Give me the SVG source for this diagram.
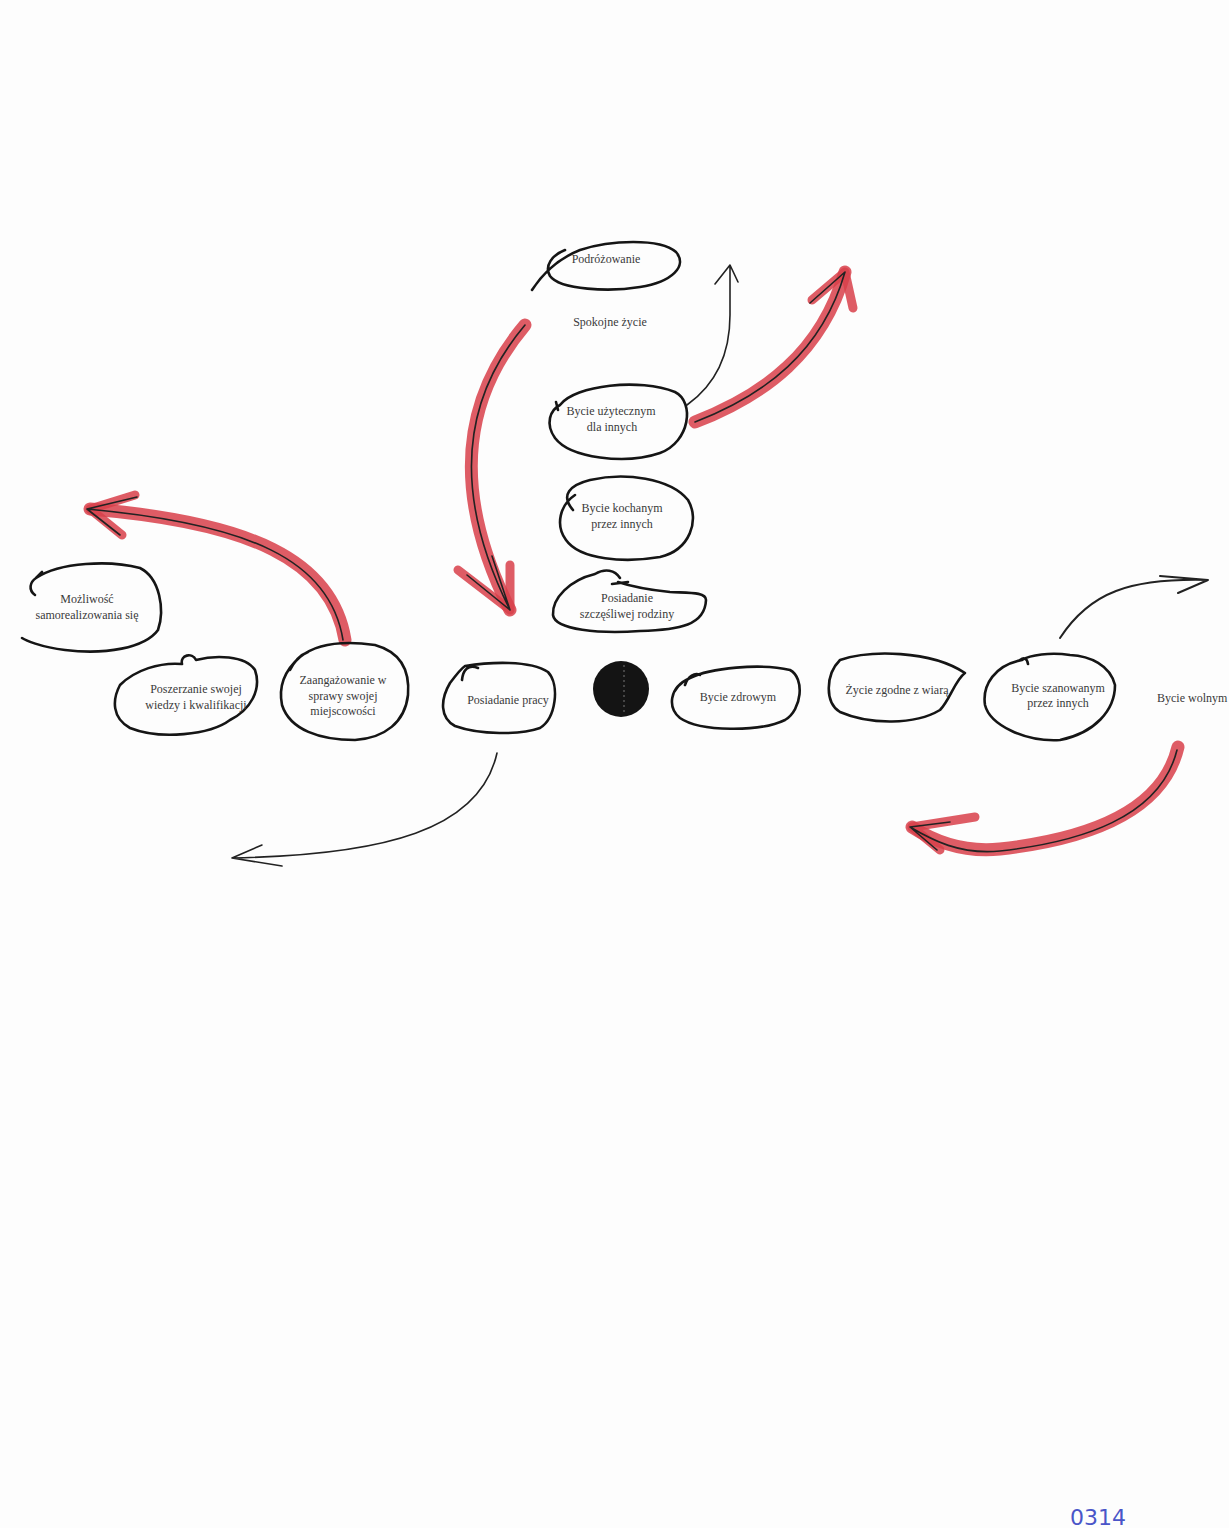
<svg xmlns="http://www.w3.org/2000/svg" width="1229" height="1528" viewBox="0 0 1229 1528">
<style>
.n{fill:none;stroke:#151515;stroke-width:2.6;stroke-linecap:round;stroke-linejoin:round}
.t{font-family:"Liberation Serif","Times New Roman",serif;font-size:12px;fill:#3a3a3a;text-anchor:middle}
.red{fill:none;stroke:#d8404a;stroke-opacity:0.85;stroke-width:13;stroke-linecap:round;stroke-linejoin:round}
.blk{fill:none;stroke:#222;stroke-width:1.6;stroke-linecap:round;stroke-linejoin:round}
.hw{font-family:"DejaVu Sans",sans-serif;font-size:22px;fill:#4a55c8}
</style>
<rect width="1229" height="1528" fill="#fdfdfd"/>

<g id="connectors">
  <g id="c1">
    <path class="red" d="M525,325 C470,390 445,480 510,610"/>
    <path class="red" d="M510,610 L458,570 M510,610 L510,565" style="stroke-width:9"/>
    <path class="blk" d="M525,325 C470,390 445,480 510,610 L467,575 M510,610 L492,556"/>
  </g>
  <g id="c2">
    <path class="blk" d="M687,405 C722,380 730,345 730,315 L730,265 L715,284 M730,265 L738,282"/>
  </g>
  <g id="c3">
    <path class="red" d="M695,422 C765,395 822,352 845,272"/>
    <path class="red" d="M845,272 L812,300 M845,272 L853,308" style="stroke-width:9"/>
    <path class="blk" d="M695,422 C765,395 822,352 845,272 L810,303"/>
  </g>
  <g id="c4">
    <path class="red" d="M345,640 C332,560 250,522 90,509"/>
    <path class="red" d="M90,509 L135,495 M90,509 L122,535" style="stroke-width:9"/>
    <path class="blk" d="M343,640 C330,560 250,524 87,509 L137,497 M87,509 L120,535"/>
  </g>
  <g id="c5">
    <path class="blk" d="M497,753 C480,830 385,855 232,858 L262,845 M232,858 L282,866"/>
  </g>
  <g id="c6">
    <path class="blk" d="M1060,638 C1090,592 1130,578 1208,580 L1160,576 M1208,580 L1178,593" style="stroke-width:2"/>
  </g>
  <g id="c7">
    <path class="red" d="M1178,747 C1162,815 1080,840 1000,849 C960,853 932,840 912,827"/>
    <path class="red" d="M912,827 L975,817 M912,827 L940,850" style="stroke-width:9"/>
    <path class="blk" d="M1177,750 C1160,818 1080,842 1000,851 C960,855 932,840 910,827 L937,850 M910,827 L950,822"/>
  </g>
</g>

<g id="node-podrozowanie">
  <path class="n" d="M532,290 C545,270 560,258 580,250 C610,240 660,238 676,252 C688,266 672,282 640,287 C610,292 560,290 550,276 C544,266 552,255 565,250"/>
  <text class="t" x="606" y="263">Podróżowanie</text>
</g>
<g id="node-spokojne">
  <text class="t" x="610" y="326">Spokojne życie</text>
</g>
<g id="node-uzytecznym">
  <path class="n" d="M560,405 C575,385 640,378 675,392 C695,402 690,442 660,453 C625,465 570,458 555,438 C545,424 550,410 560,405 M558,410 L556,402"/>
  <text class="t" x="611" y="415">Bycie użytecznym</text>
  <text class="t" x="612" y="431">dla innych</text>
</g>
<g id="node-kochanym">
  <path class="n" d="M573,510 C560,495 570,485 590,480 C625,472 670,478 688,500 C700,520 690,550 660,557 C625,563 580,560 566,540 C555,525 560,505 575,495"/>
  <text class="t" x="622" y="512">Bycie kochanym</text>
  <text class="t" x="622" y="528">przez innych</text>
</g>
<g id="node-rodzina">
  <path class="n" d="M620,578 C615,570 605,568 595,574 C570,580 552,598 553,615 C555,630 600,634 640,631 C680,630 705,625 706,600 C706,592 690,593 670,592 C650,590 630,586 618,582 M612,584 L628,582"/>
  <text class="t" x="627" y="602">Posiadanie</text>
  <text class="t" x="627" y="618">szczęśliwej rodziny</text>
</g>
<g id="node-center">
  <circle cx="621" cy="689" r="28" fill="#141414"/>
  <path d="M624,665 L624,712" stroke="#777" stroke-width="1" stroke-dasharray="2 3"/>
</g>
<g id="node-mozliwosc">
  <path class="n" d="M36,578 C60,562 110,560 140,568 C160,578 165,610 158,630 C145,648 105,655 65,650 C40,647 25,640 22,638 M36,578 C30,582 28,590 35,595 M36,578 L42,572"/>
  <text class="t" x="87" y="603">Możliwość</text>
  <text class="t" x="87" y="619">samorealizowania się</text>
</g>
<g id="node-poszerzanie">
  <path class="n" d="M182,664 C180,655 192,652 196,660 C215,655 245,655 255,670 C262,690 250,710 230,720 C210,735 160,740 130,728 C112,718 112,700 120,685 C135,670 160,662 182,664"/>
  <text class="t" x="196" y="693">Poszerzanie swojej</text>
  <text class="t" x="196" y="709">wiedzy i kwalifikacji</text>
</g>
<g id="node-zaangazowanie">
  <path class="n" d="M300,657 C315,645 340,640 375,645 C400,652 410,670 408,695 C405,722 385,738 355,740 C320,740 290,730 282,705 C278,685 285,670 300,657 M290,670 C295,660 300,655 308,652"/>
  <text class="t" x="343" y="684">Zaangażowanie w</text>
  <text class="t" x="343" y="700">sprawy swojej</text>
  <text class="t" x="343" y="715">miejscowości</text>
</g>
<g id="node-praca">
  <path class="n" d="M465,666 C490,662 530,660 548,672 C560,685 556,718 540,728 C520,735 480,735 455,726 C440,718 440,700 450,683 C456,675 462,668 465,666 M462,680 C463,670 468,664 478,668"/>
  <text class="t" x="508" y="704">Posiadanie pracy</text>
</g>
<g id="node-zdrowym">
  <path class="n" d="M690,678 C710,668 760,663 790,670 C805,678 802,710 785,720 C760,732 700,732 680,718 C668,708 668,688 690,678 M685,685 C688,676 695,672 700,675"/>
  <text class="t" x="738" y="701">Bycie zdrowym</text>
</g>
<g id="node-wiara">
  <path class="n" d="M840,660 C870,650 930,650 965,673 C955,680 950,700 940,710 C915,725 870,725 840,712 C825,703 825,675 840,660 Z"/>
  <text class="t" x="897" y="694">Życie zgodne z wiarą</text>
</g>
<g id="node-szanowanym">
  <path class="n" d="M1022,660 C1030,655 1050,652 1070,655 C1090,656 1110,665 1115,685 C1115,710 1095,733 1060,740 C1025,742 990,725 985,705 C982,685 995,665 1022,660 M1020,660 C1024,657 1027,658 1028,664"/>
  <text class="t" x="1058" y="692">Bycie szanowanym</text>
  <text class="t" x="1058" y="707">przez innych</text>
</g>
<g id="node-wolnym">
  <text class="t" x="1157" y="702" style="text-anchor:start">Bycie wolnym</text>
</g>
<text class="hw" x="1070" y="1525">0314</text>
</svg>
